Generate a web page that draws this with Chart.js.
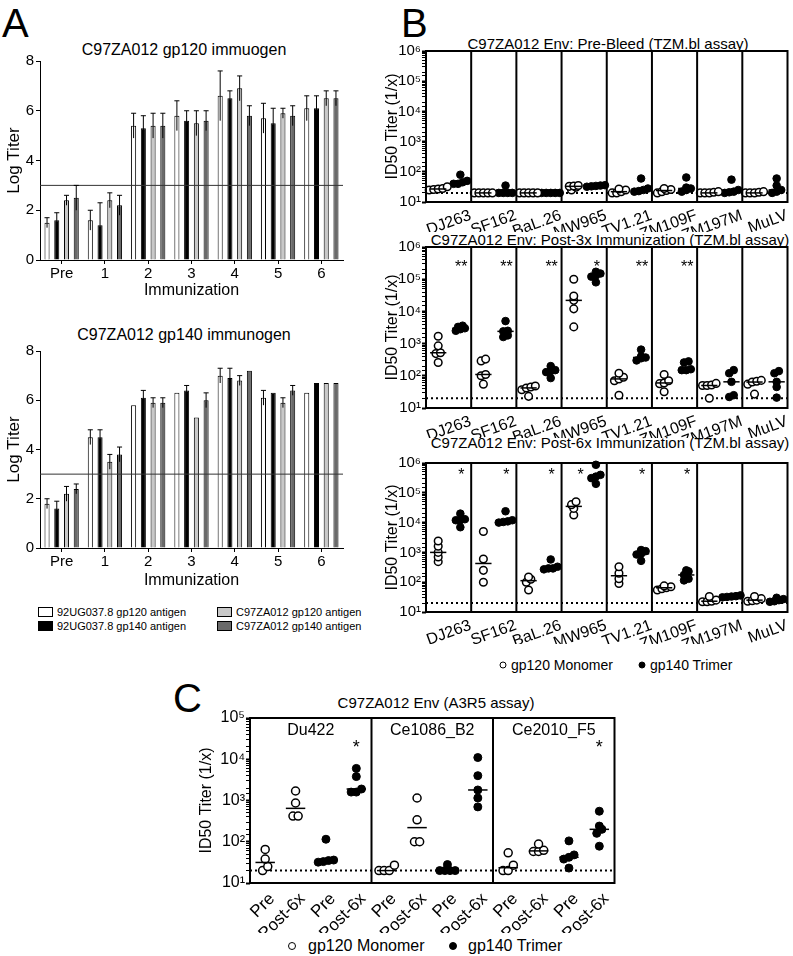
<!DOCTYPE html>
<html>
<head>
<meta charset="utf-8">
<script src="https://cdn.jsdelivr.net/npm/chart.js@4.4.1/dist/chart.umd.min.js"></script>
<style>
body { margin: 0; background: #fff; font-family: "Liberation Sans", Arial, sans-serif; color: #000; }
#page { position: relative; width: 793px; height: 956px; overflow: hidden; }
canvas { position: absolute; }
.t { position: absolute; white-space: nowrap; line-height: 1; }
.c { transform: translate(-50%, -50%); }
.m { transform: translateY(-50%); }
.sw { position: absolute; width: 13px; height: 8px; border: 1px solid #000; }
.dot { position: absolute; border-radius: 50%; border: 1.5px solid #000; transform: translate(-50%, -50%); }
</style>
</head>
<body>
<div id="page">
  <div class="t" style="left:2px;top:3px;font-size:40px">A</div>
  <div class="t c" style="left:184px;top:50px;font-size:16px">C97ZA012 gp120 immuogen</div>
  <div class="t c" style="left:184px;top:335px;font-size:16px">C97ZA012 gp140 immunogen</div>
  <canvas id="chartA1" width="360" height="250" style="left:0;top:50px;width:360px;height:250px"></canvas>
  <canvas id="chartA2" width="360" height="250" style="left:0;top:340px;width:360px;height:250px"></canvas>
  <div id="legendA"></div>

  <div class="t" style="left:401px;top:3px;font-size:40px">B</div>
  <div class="t c" style="left:608px;top:43px;font-size:15px">C97ZA012 Env: Pre-Bleed (TZM.bl assay)</div>
  <div class="t c" style="left:610px;top:239px;font-size:15px">C97ZA012 Env: Post-3x Immunization (TZM.bl assay)</div>
  <div class="t c" style="left:610px;top:442px;font-size:15px">C97ZA012 Env: Post-6x Immunization (TZM.bl assay)</div>
  <canvas id="chartB1" width="410" height="188" style="left:383px;top:44px;width:410px;height:188px"></canvas>
  <canvas id="chartB2" width="410" height="198" style="left:383px;top:240px;width:410px;height:198px"></canvas>
  <canvas id="chartB3" width="410" height="189" style="left:383px;top:455px;width:410px;height:189px"></canvas>
  <div class="dot" style="left:503px;top:665px;width:5px;height:5px;background:#fff"></div>
  <div class="t m" style="left:511px;top:665px;font-size:14px">gp120 Monomer</div>
  <div class="dot" style="left:642px;top:665px;width:5px;height:5px;background:#000"></div>
  <div class="t m" style="left:650px;top:665px;font-size:14px">gp140 Trimer</div>

  <div class="t" style="left:173px;top:678px;font-size:40px">C</div>
  <div class="t c" style="left:436px;top:702px;font-size:15px">C97ZA012 Env (A3R5 assay)</div>
  <canvas id="chartC" width="430" height="223" style="left:190px;top:710px;width:430px;height:223px"></canvas>
  <div class="dot" style="left:292px;top:946px;width:6px;height:6px;background:#fff"></div>
  <div class="t m" style="left:308px;top:946px;font-size:16px">gp120 Monomer</div>
  <div class="dot" style="left:453px;top:946px;width:6px;height:6px;background:#000"></div>
  <div class="t m" style="left:468px;top:946px;font-size:16px">gp140 Trimer</div>
</div>
<script>
// ---- Panel A: ELISA log titers ----
const immunizations = ['Pre', '1', '2', '3', '4', '5', '6'];
const antigens = ['92UG037.8 gp120 antigen', '92UG037.8 gp140 antigen', 'C97ZA012 gp120 antigen', 'C97ZA012 gp140 antigen'];
const antigenColors = ['#ffffff', '#000000', '#c8c8c8', '#6a6a6a'];
const titerCutoff = 3;

const gp120_ug120 = [1.5, 1.6, 5.4, 5.8, 6.6, 5.7, 6.1];
const gp120_ug140 = [1.6, 1.4, 5.3, 5.6, 6.5, 5.5, 6.1];
const gp120_c120 = [2.4, 2.4, 5.4, 5.5, 6.9, 5.9, 6.5];
const gp120_c140 = [2.5, 2.2, 5.4, 5.6, 5.8, 5.8, 6.5];
const gp120_ug120_err = [0.2, 0.4, 0.5, 0.6, 1.0, 0.6, 0.5];
const gp120_ug140_err = [0.3, 0.9, 0.5, 0.4, 0.3, 0.6, 0.5];
const gp120_c120_err = [0.2, 0.3, 0.5, 0.5, 0.5, 0.2, 0.3];
const gp120_c140_err = [0.5, 0.4, 0.5, 0.4, 0.4, 0.4, 0.3];

const gp140_ug120 = [1.8, 4.5, 5.8, 6.3, 7.0, 6.1, 6.3];
const gp140_ug140 = [1.6, 4.5, 6.1, 6.4, 6.9, 6.3, 6.7];
const gp140_c120 = [2.2, 3.5, 5.9, 5.3, 6.8, 5.9, 6.7];
const gp140_c140 = [2.4, 3.8, 5.9, 6.0, 7.2, 6.4, 6.7];
const gp140_ug120_err = [0.2, 0.3, 0, 0, 0.3, 0.3, 0];
const gp140_ug140_err = [0.3, 0.3, 0.3, 0.2, 0.4, 0, 0];
const gp140_c120_err = [0.3, 0.3, 0.2, 0, 0.2, 0.2, 0];
const gp140_c140_err = [0.2, 0.3, 0.2, 0.3, 0, 0.2, 0];

// ---- Panel B: TZM.bl ID50 titers ----
const viruses = ['DJ263', 'SF162', 'BaL.26', 'MW965', 'TV1.21', 'ZM109F', 'ZM197M', 'MuLV'];
const detectionLimit = 20;

const preMono = [[32, 28, 27, 26, 25], [20, 20, 20, 20, 20], [20, 20, 20, 20, 20], [35, 34, 33, 31, 25],
  [27, 25, 22, 20, 20], [28, 26, 24, 22, 20], [22, 21, 20, 20, 20], [22, 21, 20, 20, 20]];
const preTrimer = [[80, 50, 45, 40, 40], [35, 20, 20, 20, 20], [20, 20, 20, 20, 20], [36, 35, 34, 33, 32],
  [60, 28, 25, 23, 22], [65, 30, 28, 25, 22], [55, 25, 22, 21, 20], [60, 35, 25, 22, 20]];

const post3Mono = [[1700, 850, 520, 490, 260], [330, 290, 110, 100, 55], [48, 45, 42, 37, 23],
  [100000, 30000, 22000, 12000, 3300], [120, 90, 80, 70, 25], [110, 70, 60, 57, 32],
  [58, 52, 50, 50, 20], [72, 68, 64, 55, 27]];
const post3Trimer = [[3600, 3300, 3000, 2800, 2500], [5000, 2500, 2400, 1800, 1600], [200, 150, 140, 130, 85],
  [170000, 150000, 130000, 120000, 80000], [650, 400, 370, 350, 300], [280, 260, 160, 150, 150],
  [150, 120, 65, 25, 22], [140, 120, 65, 45, 21]];
const post3Stars = ['**', '**', '**', '*', '**', '**', '', ''];

const post6Mono = [[2400, 1600, 1000, 700, 490], [5000, 600, 250, 100], [150, 125, 100, 55],
  [50000, 40000, 30000, 18000], [330, 200, 130, 90], [75, 70, 65, 60, 55],
  [33, 25, 23, 22, 22], [33, 28, 25, 24, 23]];
const post6Trimer = [[20000, 13000, 12000, 12000, 7000], [24000, 12000, 11000, 10500, 10000],
  [580, 330, 290, 290, 270], [870000, 400000, 350000, 310000, 200000], [1200, 1100, 900, 850, 520],
  [250, 230, 175, 130, 115], [36, 34, 33, 32, 31], [30, 27, 25, 23, 22]];
const post6Stars = ['*', '*', '*', '*', '*', '*', '', ''];

// ---- Panel C: A3R5 ID50 titers ----
const a3r5Strains = ['Du422', 'Ce1086_B2', 'Ce2010_F5'];
const a3r5Timepoints = ['Pre', 'Post-6x', 'Pre', 'Post-6x'];
const a3r5MonoPre = [[65, 38, 25, 20], [27, 20, 20, 20], [54, 27, 20, 20]];
const a3r5MonoPost = [[1700, 870, 420, 420], [1150, 340, 100, 100], [88, 62, 58, 58]];
const a3r5TrimerPre = [[115, 36, 35, 33, 32], [28, 20, 20, 20, 20], [105, 48, 42, 38, 23]];
const a3r5TrimerPost = [[6000, 3800, 1900, 1600, 1600], [11000, 4000, 1800, 1150, 700], [550, 240, 200, 160, 78]];
const a3r5Stars = ['*', '', '*'];

const family = '"Liberation Sans", Arial, sans-serif';
Chart.defaults.font.family = family;
Chart.defaults.color = '#000';

// legend for panel A
const legendA = document.getElementById('legendA');
[[0, 38, 612], [1, 38, 626], [2, 217, 612], [3, 217, 626]].forEach(([k, left, cy]) => {
  legendA.insertAdjacentHTML('beforeend',
    `<div class="sw" style="left:${left}px;top:${cy - 5}px;background:${antigenColors[k]}"></div>` +
    `<div class="t m" style="left:${left + 19}px;top:${cy}px;font-size:11px">${antigens[k]}</div>`);
});

const cutoffLine = {
  id: 'cutoffLine',
  afterDatasetsDraw(chart) {
    const { ctx, chartArea: a, scales: { y } } = chart;
    const py = y.getPixelForValue(titerCutoff);
    ctx.save();
    ctx.strokeStyle = '#333';
    ctx.lineWidth = 1;
    ctx.beginPath();
    ctx.moveTo(a.left, py);
    ctx.lineTo(a.right, py);
    ctx.stroke();
    ctx.restore();
  }
};

const errorBars = {
  id: 'errorBars',
  afterDatasetsDraw(chart) {
    const { ctx, scales: { y } } = chart;
    ctx.save();
    ctx.strokeStyle = '#000';
    ctx.lineWidth = 1;
    chart.data.datasets.forEach((ds, di) => {
      chart.getDatasetMeta(di).data.forEach((bar, i) => {
        const e = ds.errors[i];
        if (!e) return;
        const top = y.getPixelForValue(ds.data[i] + e);
        const low = y.getPixelForValue(ds.data[i] - e);
        const half = bar.width / 2;
        ctx.beginPath();
        ctx.moveTo(bar.x, low);
        ctx.lineTo(bar.x, top);
        ctx.moveTo(bar.x - half, top);
        ctx.lineTo(bar.x + half, top);
        ctx.stroke();
      });
    });
    ctx.restore();
  }
};

function barChart(id, series, errors, padTop, axisHeight) {
  new Chart(document.getElementById(id), {
    type: 'bar',
    data: {
      labels: immunizations,
      datasets: antigens.map((label, k) => ({
        label,
        data: series[k],
        errors: errors[k],
        backgroundColor: antigenColors[k],
        borderColor: '#000',
        borderWidth: 1,
        categoryPercentage: 0.9,
        barPercentage: 0.52
      }))
    },
    options: {
      responsive: false,
      animation: false,
      layout: { padding: { top: padTop, right: 17, left: 0, bottom: 0 } },
      plugins: { legend: { display: false }, tooltip: { enabled: false } },
      scales: {
        x: {
          afterFit: s => { s.height = axisHeight; s.paddingLeft = 0; s.paddingRight = 0; },
          grid: { offset: false, drawOnChartArea: false, tickLength: 4, color: '#000' },
          border: { color: '#000' },
          ticks: { maxRotation: 0, padding: 1, font: { size: 15 } },
          title: { display: true, text: 'Immunization', font: { size: 16 }, padding: { top: 0, bottom: 0 } }
        },
        y: {
          min: 0, max: 8,
          afterFit: s => { s.width = 40; },
          grid: { drawOnChartArea: false, tickLength: 4, color: '#000' },
          border: { color: '#000' },
          ticks: { stepSize: 2, padding: 2, font: { size: 15 } },
          title: { display: true, text: 'Log Titer', font: { size: 17 }, padding: { top: 4, bottom: 0 } }
        }
      }
    },
    plugins: [cutoffLine, errorBars]
  });
}

barChart('chartA1', [gp120_ug120, gp120_ug140, gp120_c120, gp120_c140],
  [gp120_ug120_err, gp120_ug140_err, gp120_c120_err, gp120_c140_err], 9, 40);
barChart('chartA2', [gp140_ug120, gp140_ug140, gp140_c120, gp140_c140],
  [gp140_ug120_err, gp140_ug140_err, gp140_c120_err, gp140_c140_err], 8, 42);

// ---- helpers for the dot plots ----
const sup = ['⁰', '¹', '²', '³', '⁴', '⁵', '⁶', '⁷', '⁸', '⁹'];
const isPower = v => Math.abs(Math.log10(v) - Math.round(Math.log10(v))) < 1e-9;
const powerLabel = v => isPower(v) ? '10' + sup[Math.round(Math.log10(v))] : '';

function median(values) {
  const s = [...values].sort((a, b) => a - b);
  const m = s.length >> 1;
  return s.length % 2 ? s[m] : (s[m - 1] + s[m]) / 2;
}

// put points of nearly equal value side by side
function spread(values, center, step, gap) {
  const order = values.map((v, i) => i).sort((a, b) => values[a] - values[b]);
  const pts = [];
  let cluster = [];
  const flush = () => {
    cluster.forEach((idx, k) => pts.push({ x: center + (k - (cluster.length - 1) / 2) * step, y: values[idx] }));
    cluster = [];
  };
  order.forEach(idx => {
    if (cluster.length && Math.log10(values[idx]) - Math.log10(values[cluster[0]]) > gap) flush();
    cluster.push(idx);
  });
  flush();
  return pts;
}

function panelDecor(cfg) {
  return {
    id: 'panelDecor',
    beforeDatasetsDraw(chart) {
      const { ctx, chartArea: a, scales: { y } } = chart;
      const ly = y.getPixelForValue(detectionLimit);
      ctx.save();
      ctx.setLineDash([2, 3]);
      ctx.lineWidth = 2;
      ctx.strokeStyle = '#000';
      ctx.beginPath();
      ctx.moveTo(a.left, ly);
      ctx.lineTo(a.right, ly);
      ctx.stroke();
      ctx.restore();
    },
    afterDatasetsDraw(chart) {
      const { ctx, chartArea: a, scales: { x, y } } = chart;
      ctx.save();
      ctx.strokeStyle = '#000';
      ctx.fillStyle = '#000';
      ctx.lineWidth = 1.5;
      cfg.medians.forEach(m => {
        const py = y.getPixelForValue(m.value);
        ctx.beginPath();
        ctx.moveTo(x.getPixelForValue(m.x - m.half), py);
        ctx.lineTo(x.getPixelForValue(m.x + m.half), py);
        ctx.stroke();
      });
      ctx.lineWidth = 2;
      cfg.dividers.forEach(d => {
        const px = x.getPixelForValue(d);
        ctx.beginPath();
        ctx.moveTo(px, a.top);
        ctx.lineTo(px, a.bottom);
        ctx.stroke();
      });
      ctx.strokeRect(a.left, a.top, a.width, a.height);
      ctx.font = cfg.starFont + ' ' + family;
      ctx.textAlign = 'center';
      ctx.textBaseline = 'top';
      cfg.stars.forEach(s => { if (s.text) ctx.fillText(s.text, x.getPixelForValue(s.x), a.top + cfg.starTop); });
      if (cfg.groups) {
        ctx.font = '16px ' + family;
        ctx.textBaseline = 'middle';
        cfg.groups.forEach(g => ctx.fillText(g.text, x.getPixelForValue(g.x), a.top + 13));
      }
      ctx.restore();
    }
  };
}

function logAxis(max, width, titlePad, tickSize, titleSize) {
  return {
    type: 'logarithmic', min: 10, max,
    afterFit: s => { s.width = width; s.paddingTop = 0; s.paddingBottom = 0; },
    border: { display: false },
    grid: {
      drawOnChartArea: false, tickLength: 4, color: '#000',
      tickWidth: c => (c.tick && isPower(c.tick.value)) ? 2 : 1
    },
    ticks: { autoSkip: false, padding: 1, font: { size: tickSize }, callback: v => powerLabel(v) },
    title: { display: true, text: 'ID50 Titer (1/x)', font: { size: titleSize }, padding: { top: titlePad, bottom: 0 } }
  };
}

function dotChart(id, datasets, cfg, scales, padTop) {
  new Chart(document.getElementById(id), {
    type: 'scatter',
    data: { datasets },
    options: {
      responsive: false,
      animation: false,
      layout: { padding: { top: padTop, right: cfg.padRight, left: 0, bottom: 0 } },
      plugins: { legend: { display: false }, tooltip: { enabled: false } },
      scales
    },
    plugins: [panelDecor(cfg)]
  });
}

function pointSets(monoPts, triPts, r) {
  return [
    { label: 'gp120 Monomer', data: monoPts, pointRadius: r, pointBorderWidth: 1.5,
      pointBackgroundColor: '#fff', pointBorderColor: '#000', clip: false },
    { label: 'gp140 Trimer', data: triPts, pointRadius: r, pointBorderWidth: 1,
      pointBackgroundColor: '#000', pointBorderColor: '#000', clip: false }
  ];
}

function tzmChart(id, mono, trimer, stars, starTop, starShift, padTop, axisHeight) {
  const monoPts = mono.flatMap((v, i) => spread(v, i + 0.27, 0.1, 0.12));
  const triPts = trimer.flatMap((v, i) => spread(v, i + 0.76, 0.1, 0.12));
  const medians = mono.map((v, i) => ({ x: i + 0.27, value: median(v), half: 0.18 }))
    .concat(trimer.map((v, i) => ({ x: i + 0.76, value: median(v), half: 0.18 })));
  const cfg = {
    medians,
    dividers: viruses.slice(1).map((_, i) => i + 1),
    stars: stars.map((text, i) => ({ text, x: i + (starShift[i] !== undefined ? starShift[i] : 0.78) })),
    starTop, starFont: '16px', padRight: 1
  };
  dotChart(id, pointSets(monoPts, triPts, 3.8), cfg, {
    x: {
      type: 'linear', min: 0, max: viruses.length,
      afterBuildTicks: s => { s.ticks = viruses.map((_, i) => ({ value: i + 0.5 })); },
      afterFit: s => { s.height = axisHeight; s.paddingLeft = 0; s.paddingRight = 0; },
      grid: { display: false, drawTicks: false },
      border: { display: false },
      ticks: { autoSkip: false, minRotation: 20, maxRotation: 20, labelOffset: 22, padding: 4,
        font: { size: 16 }, callback: (v, i) => viruses[i] }
    },
    y: logAxis(1e6, 43, 0, 15, 16)
  }, padTop);
}

tzmChart('chartB1', preMono, preTrimer, [], 0, {}, 7, 30);
tzmChart('chartB2', post3Mono, post3Trimer, post3Stars, 13, {}, 7, 30);
tzmChart('chartB3', post6Mono, post6Trimer, post6Stars, 5, { 3: 0.42 }, 8, 32);

// panel C
(function () {
  const cols = a3r5Timepoints.length;
  const place = (groups, offset) => groups.flatMap((v, g) => spread(v, g * cols + offset, 0.17, 0.14));
  const monoPts = place(a3r5MonoPre, 0.5).concat(place(a3r5MonoPost, 1.5));
  const triPts = place(a3r5TrimerPre, 2.5).concat(place(a3r5TrimerPost, 3.5));
  const medians = [];
  [a3r5MonoPre, a3r5MonoPost, a3r5TrimerPre, a3r5TrimerPost].forEach((set, k) =>
    set.forEach((v, g) => medians.push({ x: g * cols + k + 0.5, value: median(v), half: 0.32 })));
  const labels = a3r5Strains.flatMap(() => a3r5Timepoints);
  const cfg = {
    medians,
    dividers: a3r5Strains.slice(1).map((_, g) => (g + 1) * cols),
    stars: a3r5Stars.map((text, g) => ({ text, x: g * cols + 3.5 })),
    groups: a3r5Strains.map((text, g) => ({ text, x: g * cols + cols / 2 })),
    starTop: 21, starFont: '18px', padRight: 4
  };
  dotChart('chartC', pointSets(monoPts, triPts, 4), cfg, {
    x: {
      type: 'linear', min: 0, max: labels.length,
      afterBuildTicks: s => { s.ticks = labels.map((_, i) => ({ value: i + 0.5 })); },
      afterFit: s => { s.height = 50; s.paddingLeft = 0; s.paddingRight = 0; },
      grid: { display: false, drawTicks: false },
      border: { display: false },
      ticks: { autoSkip: false, minRotation: 45, maxRotation: 45, labelOffset: 7, padding: 6,
        font: { size: 17 }, callback: (v, i) => labels[i] }
    },
    y: logAxis(1e5, 60, 7, 16, 16)
  }, 8);
})();
</script>
</body>
</html>
